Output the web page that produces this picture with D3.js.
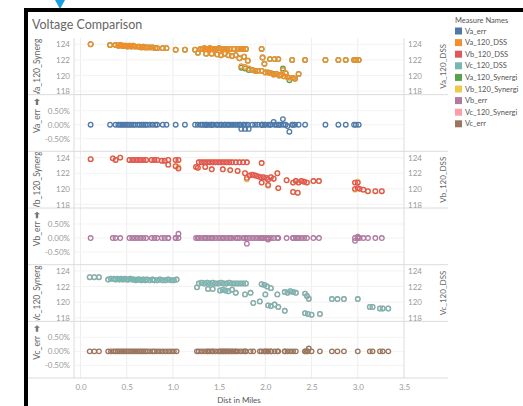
<!DOCTYPE html>
<html>
<head>
<meta charset="utf-8">
<script src="https://cdn.jsdelivr.net/npm/d3@7"></script>
<style>
  body { margin: 0; background: #fff; }
  svg { display: block; font-family: Lato, "Open Sans", sans-serif; }
</style>
</head>
<body>
<svg id="chart" width="523" height="406"></svg>
<script>
// ---- Data -------------------------------------------------------------
// Each row: [distance in miles, DSS voltage, Synergi voltage, error %]
const phaseA = [
  [0.11,124.0,124.0,0],[0.32,123.9,123.9,0],[0.38,123.9,123.9,0],[0.41,123.8,123.8,0],
  [0.43,123.9,123.9,0],[0.45,123.8,123.8,0],[0.47,123.8,123.8,0],[0.49,123.8,123.8,0],
  [0.51,123.7,123.7,0],[0.53,123.8,123.8,0],[0.55,123.7,123.7,0],[0.57,123.8,123.8,0],
  [0.59,123.7,123.7,0],[0.62,123.7,123.7,0],[0.64,123.7,123.7,0],[0.66,123.6,123.6,0],
  [0.68,123.7,123.7,0],[0.70,123.6,123.6,0],[0.72,123.6,123.6,0],[0.75,123.6,123.6,0],
  [0.78,123.6,123.6,0],[0.81,123.5,123.5,0],[0.83,123.5,123.5,0],[0.89,123.5,123.5,0],
  [0.93,123.5,123.5,0],[1.03,123.3,123.3,0],[1.13,123.3,123.3,0],
  [1.24,123.3,123.3,0],[1.27,122.9,122.9,0],[1.30,123.4,123.4,0],[1.32,123.4,123.4,0],
  [1.34,123.5,123.5,0],[1.36,123.4,123.4,0],[1.38,123.4,123.4,0],[1.40,123.5,123.5,0],
  [1.42,123.4,123.4,0],[1.44,123.4,123.4,0],[1.47,123.4,123.4,0],[1.50,123.5,123.5,0],
  [1.53,123.4,123.4,0],[1.56,123.4,123.4,0],[1.59,123.4,123.4,0],[1.62,123.4,123.4,0],
  [1.66,123.4,123.4,0],[1.70,123.4,123.4,0],[1.73,123.4,123.4,0],[1.76,123.4,123.4,0],
  [1.79,123.4,123.4,0],
  [1.36,122.8,122.8,0],[1.42,122.8,122.8,0],[1.48,122.7,122.7,0],[1.52,122.6,122.6,0],
  [1.56,122.8,122.8,0],[1.60,122.6,122.6,0],[1.64,122.5,122.5,0],[1.68,122.6,122.6,0],
  [1.72,122.2,122.2,0],[1.77,122.4,122.4,0],[1.81,121.9,121.9,0],
  [1.74,121.2,121.0,-0.15],[1.78,121.1,120.9,-0.15],[1.82,120.9,120.7,-0.15],
  [1.86,120.7,120.7,0],[1.89,120.6,120.6,0],[1.92,120.6,120.6,0],[1.96,123.4,123.4,0],
  [1.96,120.6,120.6,0],[1.97,122.3,122.3,0],[1.99,121.5,121.5,0],[2.00,120.4,120.4,0],
  [2.03,120.4,120.4,0],[2.05,122.1,122.1,0],[2.06,120.3,120.3,0],[2.09,120.1,120.2,0.1],
  [2.10,122.1,122.1,0],[2.12,120.2,120.2,0],[2.14,122.1,122.1,0],[2.15,120.0,120.0,0],
  [2.17,120.1,120.1,0],[2.19,120.7,120.9,0.2],[2.20,119.9,119.9,0],[2.22,120.3,120.3,0],
  [2.24,119.8,119.8,-0.05],[2.26,119.7,119.4,-0.25],[2.29,122.0,122.0,0],[2.30,119.7,119.7,0],
  [2.32,119.6,119.6,0],[2.36,120.2,120.2,0],[2.43,122.0,122.0,0],
  [2.65,122.0,122.0,0],[2.79,122.0,122.0,0],[2.87,122.0,122.0,0],[2.96,122.0,122.0,0],
  [2.98,122.0,122.0,0],[3.01,122.0,122.0,0]
];

const phaseB = [
  [0.11,123.8,123.8,0],[0.35,123.9,123.9,0],[0.38,123.7,123.7,0],[0.43,124.0,124.0,0],
  [0.53,123.7,123.7,0],[0.56,123.7,123.7,0],[0.59,123.7,123.7,0],[0.62,123.7,123.7,0],
  [0.65,123.7,123.7,0],[0.68,123.7,123.7,0],[0.71,123.7,123.7,0],[0.77,123.7,123.7,0],
  [0.80,123.7,123.7,0],[0.83,123.7,123.7,0],[0.88,123.6,123.6,0],[0.91,123.6,123.6,0],
  [0.95,123.7,123.7,0],[0.95,123.1,123.1,0],[1.03,123.7,123.7,0],[1.06,123.7,123.7,0],
  [1.03,122.9,122.9,0],[1.06,122.6,122.8,0.15],
  [1.25,122.8,122.8,0],[1.27,122.7,122.7,0],[1.28,123.4,123.4,0],[1.31,123.4,123.4,0],
  [1.34,123.4,123.4,0],[1.37,123.4,123.4,0],[1.40,123.4,123.4,0],[1.43,123.4,123.4,0],
  [1.46,123.4,123.4,0],[1.49,123.4,123.4,0],[1.52,123.4,123.4,0],[1.55,123.4,123.4,0],
  [1.58,123.4,123.4,0],[1.61,123.4,123.4,0],[1.64,123.4,123.4,0],[1.68,123.4,123.4,0],
  [1.72,123.4,123.4,0],[1.76,123.4,123.4,0],[1.80,123.4,123.4,0],
  [1.35,122.8,122.8,0],[1.42,122.5,122.5,0],[1.54,122.5,122.5,0],[1.62,122.4,122.4,0],
  [1.70,122.3,122.3,0],[1.78,122.0,122.0,0],[1.80,121.4,121.2,-0.2],[1.83,121.7,121.7,0],
  [1.86,121.8,121.8,0],[1.89,121.7,121.7,0],[1.92,121.6,121.6,0],[1.95,121.5,121.5,0],
  [1.96,123.3,123.3,0],[1.96,120.8,120.8,0],[1.98,121.5,121.5,0],[2.01,121.4,121.4,0],
  [2.03,121.2,121.2,0],[2.03,120.5,120.4,-0.05],[2.06,121.5,121.5,0],[2.09,121.3,121.3,0],
  [2.13,122.0,122.0,0],[2.14,120.1,120.1,0],[2.23,121.1,121.1,0],[2.30,120.8,120.8,0],
  [2.33,121.0,121.0,0],[2.36,120.8,120.8,0],[2.39,121.0,121.0,0],[2.42,120.9,120.9,0],
  [2.45,120.8,120.8,0],[2.30,119.6,119.6,0],[2.35,119.5,119.5,0],[2.52,121.0,121.0,0],
  [2.58,121.0,121.0,0],
  [2.97,120.8,120.8,0],[3.00,120.8,120.9,0.05],[2.97,120.0,119.9,-0.1],[3.00,120.1,120.1,0],
  [3.02,120.0,120.0,0],[3.06,119.9,119.9,0],[3.11,119.7,119.7,0],[3.19,119.7,119.7,0],
  [3.26,119.7,119.7,0]
];

const phaseC = [
  [0.10,123.2,123.2,0],[0.15,123.2,123.2,0],[0.20,123.2,123.2,0],[0.30,122.9,122.9,0],
  [0.33,123.0,123.0,0],[0.36,123.0,123.0,0],[0.38,122.9,122.9,0],[0.40,123.0,123.0,0],
  [0.42,122.9,122.9,0],[0.44,123.0,123.0,0],[0.46,122.9,122.9,0],[0.48,123.0,123.0,0],
  [0.50,122.9,122.9,0],[0.52,122.9,122.9,0],[0.54,123.0,123.0,0],[0.56,122.9,122.9,0],
  [0.58,122.9,122.9,0],[0.60,122.8,122.8,0],[0.62,122.9,122.9,0],[0.64,122.9,122.9,0],
  [0.66,122.8,122.8,0],[0.68,122.9,122.9,0],[0.70,122.8,122.8,0],[0.72,122.9,122.9,0],
  [0.75,122.8,122.8,0],[0.78,122.9,122.9,0],[0.80,122.8,122.8,0],[0.83,122.8,122.8,0],
  [0.86,122.9,122.9,0],[0.89,122.8,122.8,0],[0.92,122.8,122.8,0],[0.95,122.9,122.9,0],
  [0.98,122.8,122.8,0],[1.01,122.8,122.8,0],[1.04,122.9,122.9,0],
  [1.26,121.9,121.9,0],[1.28,122.4,122.4,0],[1.31,122.5,122.5,0],[1.34,122.4,122.4,0],
  [1.37,122.5,122.5,0],[1.40,122.4,122.4,0],[1.43,122.5,122.5,0],[1.46,122.4,122.4,0],
  [1.49,122.4,122.4,0],[1.52,122.5,122.5,0],[1.55,122.4,122.4,0],[1.58,122.4,122.4,0],
  [1.61,122.5,122.5,0],[1.64,122.4,122.4,0],[1.67,122.4,122.4,0],[1.70,122.4,122.4,0],
  [1.73,122.4,122.4,0],[1.76,122.4,122.4,0],[1.79,122.4,122.4,0],
  [1.38,121.7,121.7,0],[1.43,121.7,121.7,0],[1.51,121.5,121.5,0],[1.54,121.6,121.6,0],
  [1.57,121.5,121.5,0],[1.60,121.4,121.4,0],[1.64,121.6,121.6,0],[1.68,121.2,121.2,0],
  [1.78,121.0,121.0,0],[1.84,121.2,121.2,0],[1.87,119.9,119.9,0],[1.94,120.1,120.1,0],
  [1.96,122.3,122.3,0],[1.99,122.2,122.2,0],[2.02,122.0,122.0,0],[2.06,121.8,121.8,0],
  [2.00,121.0,121.0,0],[2.03,119.6,119.6,0],[2.06,119.5,119.5,0],[2.10,119.7,119.7,0],
  [2.14,119.4,119.4,0],[2.13,121.0,121.0,0],[2.21,121.3,121.3,0],[2.24,121.2,121.2,0],
  [2.27,121.4,121.4,0],[2.30,121.3,121.3,0],[2.33,121.2,121.2,0],[2.21,118.9,118.9,0],
  [2.43,121.1,121.1,0],[2.45,120.8,120.8,0],[2.47,120.4,120.5,0.1],[2.43,118.6,118.6,0],
  [2.46,118.5,118.5,0],[2.50,118.4,118.4,0],[2.59,118.5,118.5,0],
  [2.72,120.4,120.4,0],[2.78,120.4,120.4,0],[2.85,120.4,120.4,0],[3.00,120.4,120.4,0],
  [3.13,119.4,119.4,0],[3.16,119.4,119.4,0],[3.24,119.2,119.2,0],[3.27,119.2,119.2,0],
  [3.33,119.2,119.2,0]
];

const xTicks = [0, 0.5, 1, 1.5, 2, 2.5, 3, 3.5];
const voltTicks = [118, 120, 122, 124];
const errTicks = [-0.5, 0, 0.5];

const measureNames = ["Va_err","Va_120_DSS","Vb_120_DSS","Vc_120_DSS","Va_120_Synergi",
                      "Vb_120_Synergi","Vb_err","Vc_120_Synergi","Vc_err"];
const measureColors = ["#4e79a7","#f28e2b","#e15759","#76b7b2","#59a14f",
                       "#edc948","#b07aa1","#ff9da7","#9c755f"];
const colorOf = d3.scaleOrdinal().domain(measureNames).range(measureColors);

// ---- Layout -----------------------------------------------------------
const svg = d3.select("#chart");
const plotL = 74, plotR = 404, plotT = 38, paneH = 56.67;
const x = d3.scaleLinear().domain([-0.07, 3.5]).range([plotL, plotR]);

const panes = [
  { kind: "volt", rows: phaseA, left: "Va_120_Synergi", right: "Va_120_DSS" },
  { kind: "err",  rows: phaseA, left: "Va_err" },
  { kind: "volt", rows: phaseB, left: "Vb_120_Synergi", right: "Vb_120_DSS" },
  { kind: "err",  rows: phaseB, left: "Vb_err" },
  { kind: "volt", rows: phaseC, left: "Vc_120_Synergi", right: "Vc_120_DSS" },
  { kind: "err",  rows: phaseC, left: "Vc_err" }
];

// Frame and marker
svg.append("polygon").attr("points", "55,0 65,0 60,9").attr("fill", "#1b9de2");
svg.append("rect").attr("x", 24).attr("y", 8).attr("width", 499).attr("height", 4).attr("fill", "#000");
svg.append("rect").attr("x", 24).attr("y", 8).attr("width", 4).attr("height", 398).attr("fill", "#000");

// Title
svg.append("text").attr("x", 32).attr("y", 29)
  .attr("font-size", 12.5).attr("fill", "#666").text("Voltage Comparison");

// Vertical gridlines
svg.append("g").selectAll("line").data(xTicks.filter(d => d < 3.5)).join("line")
  .attr("x1", d => x(d)).attr("x2", d => x(d))
  .attr("y1", plotT).attr("y2", plotT + 6 * paneH)
  .attr("stroke", "#ededed").attr("stroke-width", 1);

const defs = svg.append("defs");

panes.forEach((p, i) => {
  const top = plotT + i * paneH, bot = top + paneH, mid = top + paneH / 2;
  const g = svg.append("g");
  const y = p.kind === "volt"
    ? d3.scaleLinear().domain([117.55, 124.8]).range([bot, top])
    : d3.scaleLinear().domain([-0.95, 1.07]).range([bot, top]);
  const ticks = p.kind === "volt" ? voltTicks : errTicks;

  // horizontal gridlines
  g.selectAll("line.grid").data(ticks).join("line").attr("class", "grid")
    .attr("x1", plotL).attr("x2", plotR)
    .attr("y1", d => y(d)).attr("y2", d => y(d))
    .attr("stroke", "#f3f3f3");

  // pane separator
  g.append("line").attr("x1", 28).attr("x2", 448).attr("y1", bot).attr("y2", bot)
    .attr("stroke", "#dcdcdc");

  const clipId = "clip" + i;
  defs.append("clipPath").attr("id", clipId).append("rect")
    .attr("x", plotL).attr("y", top).attr("width", plotR - plotL).attr("height", paneH);
  const labelClip = "lclip" + i;
  defs.append("clipPath").attr("id", labelClip).append("rect")
    .attr("x", 28).attr("y", top + 1).attr("width", 20).attr("height", paneH - 2);

  const fmtErr = d => (d < 0 ? "-" : "") + Math.abs(d).toFixed(2) + "%";
  const leftAxis = d3.axisLeft(y).tickValues(ticks).tickSize(0).tickPadding(4)
    .tickFormat(p.kind === "volt" ? d3.format("d") : fmtErr);
  const la = g.append("g").attr("transform", `translate(${plotL},0)`).call(leftAxis);
  la.select(".domain").remove();
  la.selectAll("text").attr("font-size", 8).attr("fill", "#9a9a9a")
    .attr("font-family", "Lato, sans-serif");

  const marks = g.append("g").attr("clip-path", `url(#${clipId})`);
  const circleStyle = sel => sel.attr("r", 2.3).attr("fill", "none").attr("stroke-width", 1.3);

  if (p.kind === "volt") {
    const rightAxis = d3.axisRight(y).tickValues(ticks).tickSize(0).tickPadding(4)
      .tickFormat(d3.format("d"));
    const ra = g.append("g").attr("transform", `translate(${plotR},0)`).call(rightAxis);
    ra.select(".domain").remove();
    ra.selectAll("text").attr("font-size", 8).attr("fill", "#9a9a9a")
      .attr("font-family", "Lato, sans-serif");

    // Synergi underneath, DSS on top
    marks.append("g").selectAll("circle").data(p.rows).join("circle")
      .attr("cx", d => x(d[0])).attr("cy", d => y(d[2]))
      .call(circleStyle).attr("stroke", colorOf(p.left));
    marks.append("g").selectAll("circle").data(p.rows).join("circle")
      .attr("cx", d => x(d[0])).attr("cy", d => y(d[1]))
      .call(circleStyle).attr("stroke", colorOf(p.right));

    g.append("text")
      .attr("transform", `translate(${plotR + 39},${mid}) rotate(-90)`)
      .attr("text-anchor", "middle").attr("dy", "0.35em")
      .attr("font-size", 8).attr("fill", "#666").text(p.right);

    g.append("g").attr("clip-path", `url(#${labelClip})`).append("text")
      .attr("transform", `translate(37,${mid}) rotate(-90)`)
      .attr("text-anchor", "middle").attr("dy", "0.35em")
      .attr("font-size", 8.5).attr("fill", "#666").text(p.left);
  } else {
    marks.append("g").selectAll("circle").data(p.rows).join("circle")
      .attr("cx", d => x(d[0])).attr("cy", d => y(d[3]))
      .call(circleStyle).attr("stroke", colorOf(p.left));

    const lab = g.append("g").attr("transform", `translate(37,${mid + 10}) rotate(-90)`);
    lab.append("text").attr("text-anchor", "start").attr("dy", "0.35em")
      .attr("font-size", 8.5).attr("fill", "#666").text(p.left);
    // small sort indicator next to the measure name
    lab.append("path").attr("transform", "translate(28,0)")
      .attr("d", "M0,-1.2 L4,-1.2 L4,-3 L6.5,0 L4,3 L4,1.2 L0,1.2 Z")
      .attr("fill", "#777");
  }
});

// Plot borders
svg.append("line").attr("x1", plotL).attr("x2", plotL).attr("y1", plotT).attr("y2", plotT + 6 * paneH)
  .attr("stroke", "#dcdcdc");
svg.append("line").attr("x1", plotR).attr("x2", plotR).attr("y1", plotT).attr("y2", plotT + 6 * paneH)
  .attr("stroke", "#dcdcdc");

// Bottom axis
const bottom = plotT + 6 * paneH;
const xa = svg.append("g").attr("transform", `translate(0,${bottom})`)
  .call(d3.axisBottom(x).tickValues(xTicks).tickSize(0).tickPadding(6).tickFormat(d3.format(".1f")));
xa.select(".domain").remove();
xa.selectAll("text").attr("font-size", 8).attr("fill", "#9a9a9a").attr("font-family", "Lato, sans-serif");
svg.append("text").attr("x", (plotL + plotR) / 2).attr("y", 403)
  .attr("text-anchor", "middle").attr("font-size", 8).attr("fill", "#555").text("Dist in Miles");

// Legend
const lg = svg.append("g").attr("transform", "translate(455,0)");
lg.append("text").attr("x", 0).attr("y", 23).attr("font-size", 7.5).attr("fill", "#555").text("Measure Names");
const items = lg.selectAll("g.item").data(measureNames).join("g").attr("class", "item")
  .attr("transform", (d, i) => `translate(0,${31 + i * 11.6})`);
items.append("rect").attr("x", 0).attr("y", -3.5).attr("width", 7).attr("height", 7)
  .attr("fill", d => colorOf(d));
items.append("text").attr("x", 10).attr("y", 0).attr("dy", "0.35em")
  .attr("font-size", 7.5).attr("fill", "#555").text(d => d);
</script>
</body>
</html>
